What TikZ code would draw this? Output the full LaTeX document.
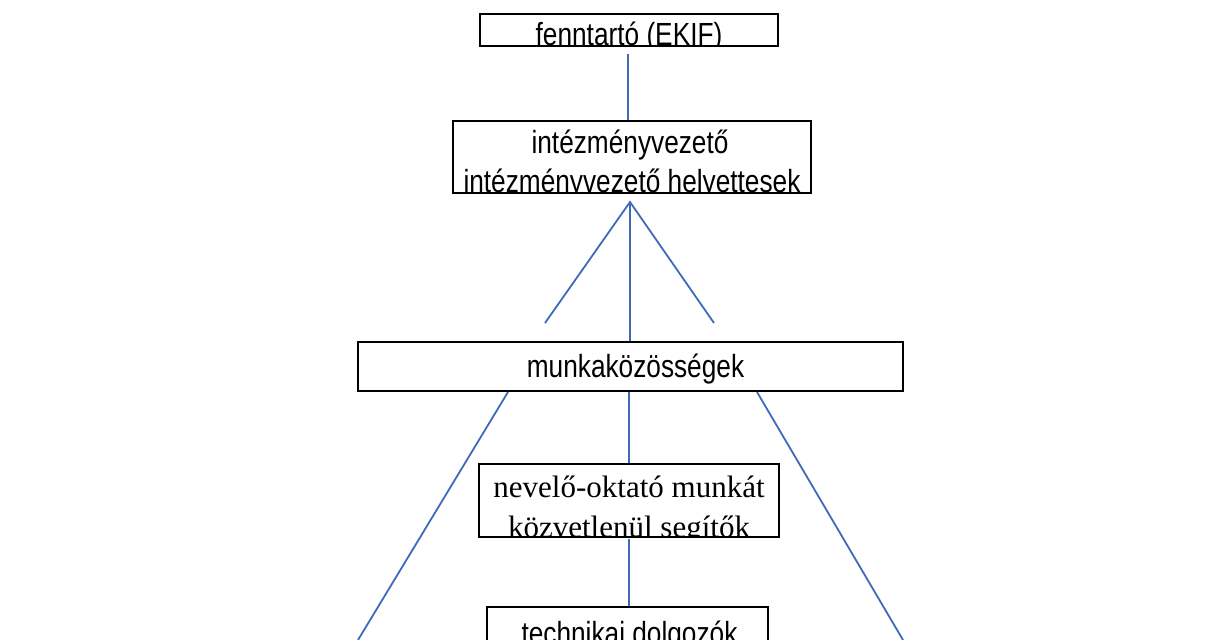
\documentclass[tikz,border=0pt]{standalone}
\usepackage{fontspec}
\setmainfont{Liberation Serif}
\newfontfamily\narrowsans[FakeStretch=0.82]{Liberation Sans}
\definecolor{linkblue}{RGB}{62,106,184}

\begin{document}
\begin{tikzpicture}[x=1pt, y=-1pt,
  font=\narrowsans\fontsize{32}{38}\selectfont,
  box/.style={draw=black, line width=2pt, fill=white, inner sep=0pt},
  serif/.style={font=\rmfamily\fontsize{31}{37}\selectfont},
  link/.style={draw=linkblue, line width=1.8pt}]

% page frame, also cuts what runs past the bottom edge
\clip (0,0) rectangle (1224,640);

% Boxes (text is cut by the box edge)
\node[box, minimum width=298pt, minimum height=32pt, path picture={
  \node[anchor=base] at ([yshift=1pt]path picture bounding box.south) {fenntartó (EKIF)};
}] (fenntarto) at (629,30) {};

\node[box, minimum width=358pt, minimum height=72pt, path picture={
  \node[anchor=base] at ([xshift=-2pt, yshift=40pt]path picture bounding box.south) {intézményvezető};
  \node[anchor=base] at ([yshift=1pt]path picture bounding box.south) {intézményvezető helyettesek};
}] (vezeto) at (632,157) {};

\node[box, minimum width=545pt, minimum height=49pt, path picture={
  \node[anchor=base] at ([xshift=5pt, yshift=14pt]path picture bounding box.south) {munkaközösségek};
}] (munkakoz) at (630.5,366.5) {};

\node[box, minimum width=300pt, minimum height=73pt, path picture={
  \node[serif, anchor=base] at ([yshift=40pt]path picture bounding box.south) {nevelő-oktató munkát};
  \node[serif, anchor=base] at ([yshift=0pt]path picture bounding box.south) {közvetlenül segítők};
}] (nevelo) at (629,500.5) {};

\node[box, minimum width=281pt, minimum height=70pt, path picture={
  \node[anchor=base] at ([xshift=2pt, yshift=-37pt]path picture bounding box.north) {technikai dolgozók};
}] (technikai) at (627.5,642) {};

% Connectors
\coordinate (top1) at ([xshift=-1pt, yshift=-7pt]fenntarto.south);
\draw[link] (top1) -- (top1 |- vezeto.north);

\coordinate (apex) at ([xshift=-2pt, yshift=-8pt]vezeto.south);
\coordinate (forkL) at (545,323); \coordinate (forkR) at (714,323);
\draw[link] (forkL) -- (apex) -- (forkR);
\draw[link] (apex) -- (apex |- munkakoz.north);

\coordinate (legL) at ([xshift=151pt]munkakoz.south west);
\coordinate (legR) at ([xshift=-147pt]munkakoz.south east);
\coordinate (footL) at (358,640); \coordinate (footR) at (903,640);
\draw[link] (legL) -- (footL);
\draw[link] (legR) -- (footR);
\draw[link] (nevelo.north |- munkakoz.south) -- (nevelo.north);
\draw[link] ([yshift=-1pt]nevelo.south) -- (nevelo.south |- technikai.north);

\end{tikzpicture}
\end{document}
